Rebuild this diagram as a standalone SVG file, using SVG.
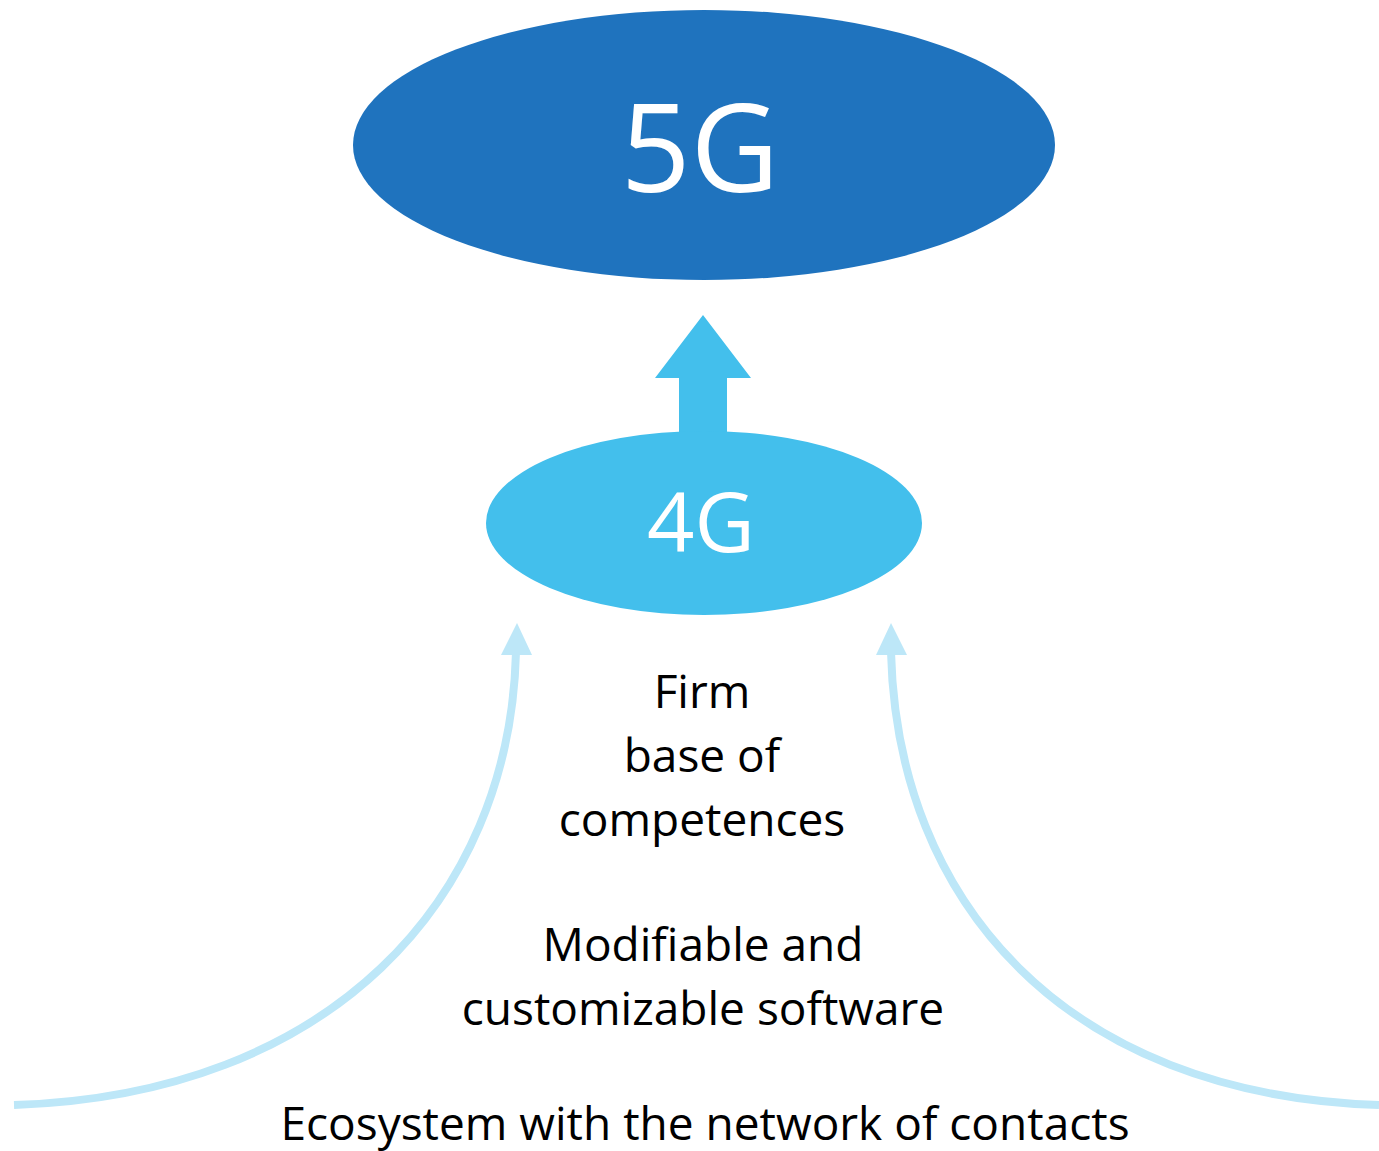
<svg xmlns="http://www.w3.org/2000/svg" width="1379" height="1151" viewBox="0 0 1379 1151">
<style>
.lbl{font-family:"Open Sans","Liberation Sans",sans-serif;fill:#000;font-size:46px;text-anchor:middle}
.big{font-family:"Open Sans","Liberation Sans",sans-serif;fill:#fff;text-anchor:middle}
.curve{fill:none;stroke:#BDE7F8;stroke-width:8}
</style>
<rect width="1379" height="1151" fill="#fff"/>
<g id="connectors">
<path class="curve" d="M14,1105 C330,1095 510,900 516,652"/>
<path d="M501,655 L532,655 L517,623 Z" fill="#BDE7F8"/>
<path class="curve" d="M1379,1105 C1063,1095 897,900 891,652"/>
<path d="M876,655 L907,655 L891,623 Z" fill="#BDE7F8"/>
<path id="up-arrow" d="M679,440 L679,378 L655,378 L703,315 L751,378 L727,378 L727,440 Z" fill="#43BFEC"/>
</g>
<g id="node-5g">
<ellipse cx="704" cy="145" rx="351" ry="135" fill="#1F73BE"/>
<text class="big" x="700" y="192" font-size="122">5G</text>
</g>
<g id="node-4g">
<ellipse cx="704" cy="523" rx="218" ry="92" fill="#43BFEC"/>
<text class="big" x="701" y="552" font-size="83">4G</text>
</g>
<g id="labels">
<text class="lbl" x="702" y="708">Firm</text>
<text class="lbl" x="702" y="772">base of</text>
<text class="lbl" x="702" y="836">competences</text>
<text class="lbl" x="703" y="961">Modifiable and</text>
<text class="lbl" x="703" y="1025">customizable software</text>
<text class="lbl" x="705" y="1140">Ecosystem with the network of contacts</text>
</g>
</svg>
